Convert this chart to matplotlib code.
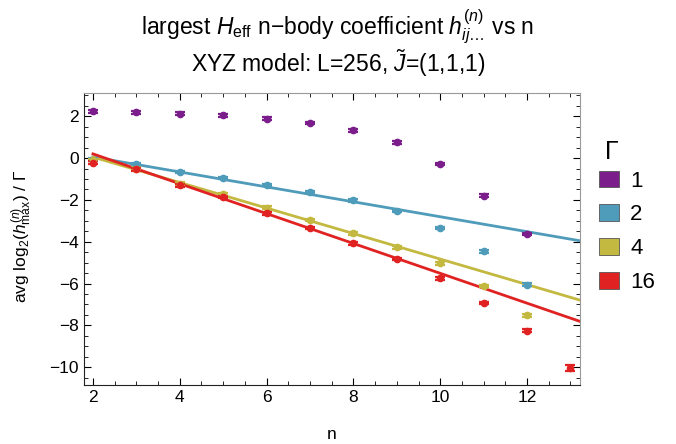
import matplotlib
matplotlib.use("Agg")
import matplotlib.pyplot as plt
from matplotlib.patches import Patch
from matplotlib.ticker import MultipleLocator
import numpy as np

plt.rcParams['font.family'] = ['Liberation Sans', 'DejaVu Sans']
plt.rcParams['mathtext.fontset'] = 'custom'
plt.rcParams['mathtext.rm'] = 'Liberation Sans'
plt.rcParams['mathtext.it'] = 'Liberation Sans:italic'

# data
gammas = ["1", "2", "4", "16"]
colors = ["#7b1e8c", "#4f9bba", "#c4b940", "#e02222"]

n_g1 = [2, 3, 4, 5, 6, 7, 8, 9, 10, 11, 12]
y_g1 = [2.23, 2.19, 2.12, 2.04, 1.89, 1.67, 1.32, 0.75, -0.28, -1.80, -3.62]

n_g2 = [2, 3, 4, 5, 6, 7, 8, 9, 10, 11, 12]
y_g2 = [-0.08, -0.28, -0.67, -0.95, -1.29, -1.62, -2.02, -2.52, -3.35, -4.46, -6.05]

n_g4 = [2, 3, 4, 5, 6, 7, 8, 9, 10, 11, 12]
y_g4 = [-0.10, -0.50, -1.22, -1.74, -2.37, -2.97, -3.60, -4.27, -5.03, -6.12, -7.52]

n_g16 = [2, 3, 4, 5, 6, 7, 8, 9, 10, 11, 12, 13]
y_g16 = [-0.22, -0.54, -1.30, -1.86, -2.64, -3.35, -4.08, -4.83, -5.75, -6.92, -8.25, -10.03]

# error bar half heights
err_g16_last = 0.13

# linear fits (value at n=2, slope); no fit for gamma=1
fit_start = [0.05, 0.05, 0.05, 0.20]
fit_slope = [None, -0.357, -0.61, -0.714]

series = [(n_g1, y_g1), (n_g2, y_g2), (n_g4, y_g4), (n_g16, y_g16)]

fig = plt.figure(figsize=(6.76, 4.44), dpi=100)
ax = fig.add_axes([0.124, 0.133, 0.734, 0.657])

xmin, xmax = 1.79, 13.22
for i, (nn, yy) in enumerate(series):
    c = colors[i]
    if fit_slope[i] is not None:
        xs = np.array([2, xmax])
        ax.plot(xs, fit_start[i] + fit_slope[i] * (xs - 2), color=c, lw=2.0, zorder=2)
    err = [0.06] * len(yy)
    if i == 3:
        err[-1] = err_g16_last
    ax.errorbar(nn, yy, yerr=err, fmt='o', color=c, ms=4.5, capsize=3.5,
                capthick=1.6, elinewidth=1.5, zorder=3)

ax.set_xlim(xmin, xmax)
ax.set_ylim(-10.85, 3.1)
ax.xaxis.set_major_locator(MultipleLocator(2))
ax.xaxis.set_minor_locator(MultipleLocator(0.5))
ax.yaxis.set_major_locator(MultipleLocator(2))
ax.yaxis.set_minor_locator(MultipleLocator(0.5))
ax.tick_params(which='both', direction='in', top=True, right=True, labelsize=12.5)
ax.tick_params(which='major', length=5)
ax.tick_params(which='minor', length=3)
for s in ['top', 'right']:
    ax.spines[s].set_color('#999999')
for s in ['left', 'bottom']:
    ax.spines[s].set_color('#222222')

ax.set_xlabel('n', fontsize=12.5)
ax.xaxis.set_label_coords(0.5, -0.143)
ax.set_ylabel(r'avg log$_2$($h^{(n)}_{\mathrm{max}}$) / $\Gamma$', fontsize=12.5)
ax.yaxis.set_label_coords(-0.1, 0.51)

fig.text(0.5, 0.939, r'largest $H_{\mathrm{eff}}$ n$-$body coefficient $h^{(n)}_{ij\ldots}$ vs n',
         ha='center', va='center', fontsize=16.5)
fig.text(0.5, 0.858, r'XYZ model: L=256, $\tilde{J}$=(1,1,1)', ha='center', va='center', fontsize=16.5)

# legend
fig.text(0.905, 0.658, 'Γ', ha='center', va='center', fontsize=18)
handles = [Patch(facecolor=c, edgecolor='#555555', lw=0.6) for c in colors]
fig.legend(handles, gammas, loc='upper left', bbox_to_anchor=(0.870, 0.641),
           frameon=False, fontsize=16, handlelength=0.9, borderpad=0,
           handleheight=0.77, labelspacing=0.58, handletextpad=0.5)

fig.savefig('out.png', dpi=100)
